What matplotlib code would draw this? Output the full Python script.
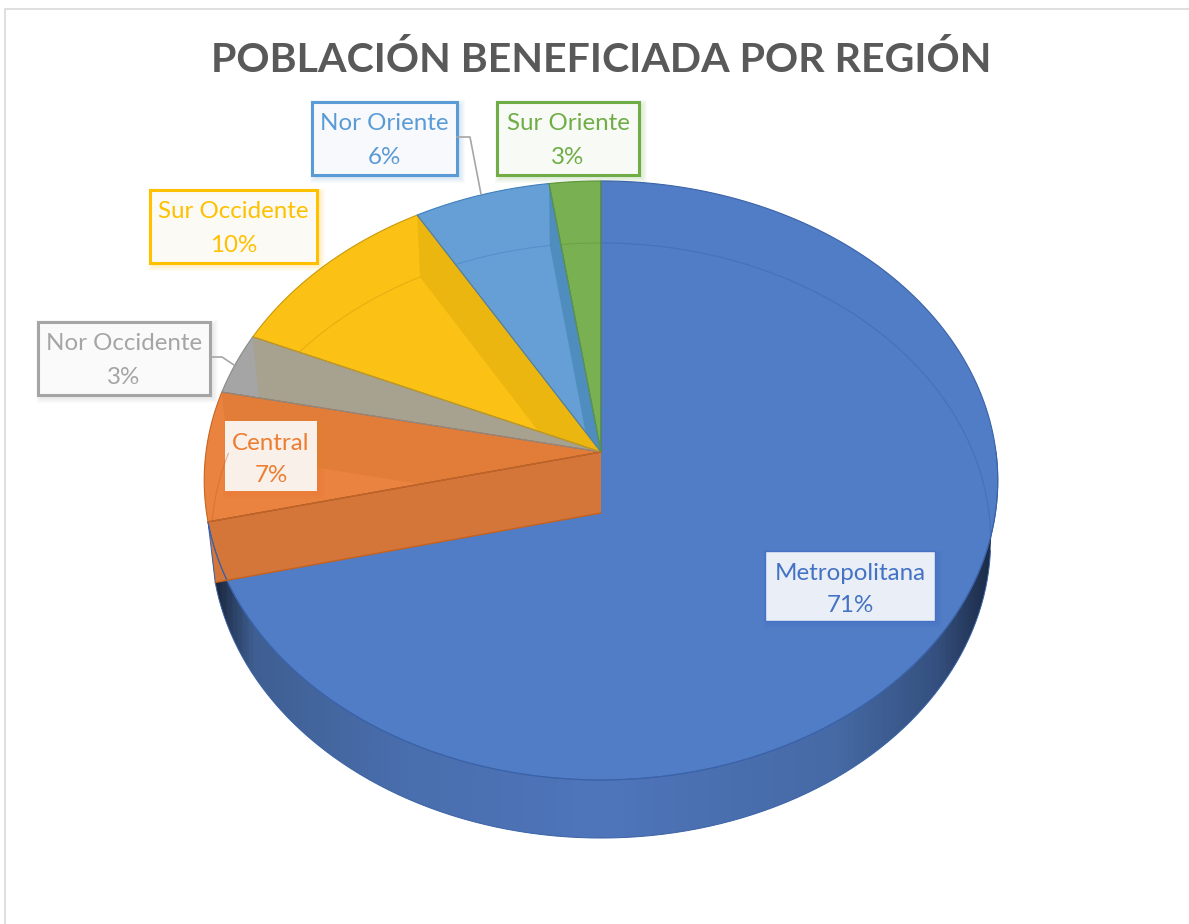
import numpy as np
import matplotlib
matplotlib.use('Agg')
import matplotlib.pyplot as plt
from matplotlib.colors import LinearSegmentedColormap
from matplotlib.patches import Polygon, Rectangle

plt.rcParams['font.family'] = ['Lato', 'DejaVu Sans']

titulo = 'POBLACIÓN BENEFICIADA POR REGIÓN'

# clockwise from 12 o'clock
regiones = ['Metropolitana', 'Central', 'Nor Occidente', 'Sur Occidente', 'Nor Oriente', 'Sur Oriente']
valores = [71.3, 7.0, 3.3, 10.0, 6.1, 2.3]
etiquetas = ['71%', '7%', '3%', '10%', '6%', '3%']

colores = ['#517CC6', '#E9833F', '#A5A5A5', '#FBC115', '#659FD5', '#78B052']
bordes = ['#3A62A8', '#C9651F', '#8A8A8A', '#C99A0A', '#3F7FBD', '#5E9439']
bandas = ['#D4753A', '#E17D38', '#A6A28F', '#EBB60F', '#4F8DBE', '#78B052']

fig = plt.figure(figsize=(11.89, 9.24), dpi=100)
ax = fig.add_axes([0, 0, 1, 1])


def cara(theta, cy, a, b, k):
    # circle seen in perspective, theta clockwise from the top
    u, v = np.sin(theta), np.cos(theta)
    return 601 + a * u / (1 + k * v), cy - b * v / (1 + k * v)


def techo(theta):
    return cara(theta, 452, 395, 296.8, 0.095)


def piso(theta):
    return cara(theta, 513, 388, 295, 0.0924)


def arco(fn, t0, t1, n=200):
    x, y = fn(np.linspace(t0, t1, n))
    return np.column_stack([x, y])


limites = np.cumsum([0] + valores) / np.sum(valores) * 2 * np.pi
fin_metro = limites[1]

# outer wall with the dark edges
muro = np.vstack([arco(techo, np.pi / 2, fin_metro), arco(piso, fin_metro, np.pi * 0.54)])
muro_patch = Polygon(muro, closed=True, fc='none', ec='none')
ax.add_patch(muro_patch)
cmap = LinearSegmentedColormap.from_list('muro', [
    (0.0, '#18243A'), (0.05, '#3F5F92'), (0.25, '#4A6FAE'), (0.5, '#4F75BB'),
    (0.8, '#466AA5'), (0.93, '#35507F'), (1.0, '#1B2A45')])
img = ax.imshow(np.linspace(0, 1, 400).reshape(1, -1), cmap=cmap, extent=[212, 994, 838, 470], aspect='auto')
img.set_clip_path(muro_patch)
ax.plot(muro[:, 0], muro[:, 1], color='#3A62A8', lw=0.7)

# top faces of the slices
caras = []
for i in range(len(valores)):
    pts = np.vstack([[601, 452], arco(techo, limites[i], limites[i + 1])])
    p = Polygon(pts, closed=True, fc=colores[i], ec='none')
    ax.add_patch(p)
    caras.append(p)

# inner walls seen through the slices, floor arc
for i in range(len(valores)):
    t = limites[i + 1]
    quad = [techo(t), piso(t), (601, 513), (601, 452)]
    q = Polygon(quad, closed=True, fc=bandas[i], ec='none')
    ax.add_patch(q)
    if i > 0:
        q.set_clip_path(caras[i])
    arc = arco(piso, limites[i], limites[i + 1])
    ln, = ax.plot(arc[:, 0], arc[:, 1], color=bordes[i], lw=0.8, alpha=0.45)
    ln.set_clip_path(caras[i])

# slice outlines
for i in range(len(valores)):
    pts = np.vstack([[601, 452], arco(techo, limites[i], limites[i + 1]), [601, 452]])
    ax.plot(pts[:, 0], pts[:, 1], color=bordes[i], lw=0.8)
b0 = np.array([piso(fin_metro), (601, 513)])
ax.plot(b0[:, 0], b0[:, 1], color='#C4621F', lw=1.0)
b1 = np.array([techo(fin_metro), (601, 452)])
ax.plot(b1[:, 0], b1[:, 1], color='#C4621F', lw=1.0)

# leader lines
ax.plot([457, 470, 481], [137, 137, 194], color='#A6A6A6', lw=1.2)
ax.plot([210, 222, 234], [357, 357, 365], color='#A6A6A6', lw=1.2)

# label boxes: x0, y0, x1, y1
cajas = [(765, 551, 935, 621), (225, 421, 317, 491), (38, 322, 210, 395),
         (150, 190, 317, 263), (312, 102, 457, 175), (497, 102, 639, 175)]
colores_texto = ['#4472C4', '#ED7D31', '#A5A5A5', '#FFC000', '#5B9BD5', '#70AD47']
fondos = ['#E9EEF7', '#FAF0EA', '#FAFAFA', '#FBFAF5', '#F7F9FD', '#F8FAF6']
grosor = [1.0, 0.0, 2.2, 2.2, 2.2, 2.2]

for i, (x0, y0, x1, y1) in enumerate(cajas):
    for s in range(6):
        ax.add_patch(Rectangle((x0 + 3 - s, y0 + 3 - s), x1 - x0 + 2 * s, y1 - y0 + 2 * s,
                               fc=colores_texto[i], ec='none', alpha=0.04))
    ax.add_patch(Rectangle((x0, y0), x1 - x0, y1 - y0, fc=fondos[i],
                           ec=colores_texto[i] if grosor[i] > 0 else 'none', lw=grosor[i]))
    xc = (x0 + x1) / 2
    ax.text(xc, y0 + 22, regiones[i], color=colores_texto[i], fontsize=17.4, ha='center', va='center')
    ax.text(xc, y0 + 55, etiquetas[i], color=colores_texto[i], fontsize=17.4, ha='center', va='center')

ax.text(601, 60, titulo, color='#595959', fontsize=29.6, fontweight='bold', ha='center', va='center')

# chart frame, cut by the crop on the right and bottom
ax.plot([5, 5, 1189], [924, 9, 9], color='#D9D9D9', lw=1.2)

ax.set_xlim(0, 1189)
ax.set_ylim(924, 0)
ax.axis('off')

fig.savefig('out.png', dpi=100, facecolor='white')
